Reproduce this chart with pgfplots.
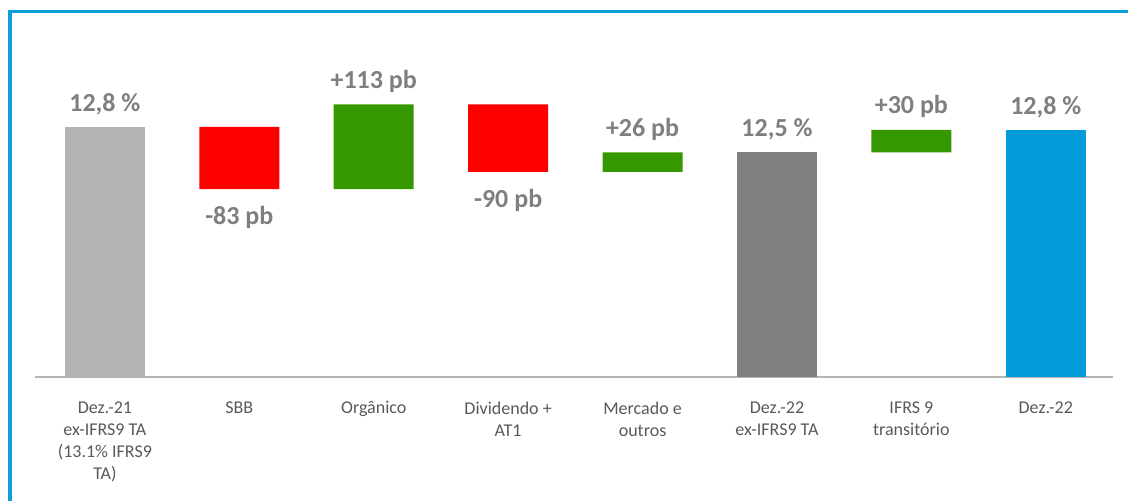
\documentclass[border=0pt]{standalone}
\usepackage{pgfplots}
\pgfplotsset{compat=1.18}
\usepackage{fontspec}
\setmainfont{Carlito}

\definecolor{framebl}{RGB}{10,160,220}
\definecolor{barlg}{RGB}{180,180,180}
\definecolor{bardg}{RGB}{127,127,127}
\definecolor{barbl}{RGB}{3,155,216}
\definecolor{barred}{RGB}{255,0,0}
\definecolor{bargr}{RGB}{53,152,0}
\definecolor{lbl}{RGB}{127,127,127}
\definecolor{cat}{RGB}{89,89,89}

\begin{document}
\begin{tikzpicture}
\path[use as bounding box] (0pt,0pt) rectangle (1128pt,-501pt);
\draw[framebl, line width=3.5pt] (10pt,-501pt) -- (10pt,-11.5pt) -- (1128pt,-11.5pt);
\begin{axis}[
  at={(35pt,-377pt)}, anchor=south west,
  scale only axis, width=1078pt, height=365pt,
  xmin=-0.52, xmax=7.5, ymin=9.4667, ymax=14.333,
  ybar stacked, bar width=80pt,
  axis y line=none, axis x line=bottom,
  axis line style={-, draw=barlg, line width=2pt},
  major tick length=0pt,
  xtick={0,...,7},
  xticklabels={{Dez.-21\\ex-IFRS9 TA\\(13.1\% IFRS9\\TA)},SBB,Orgânico,{Dividendo +\\AT1},{Mercado e\\outros},{Dez.-22\\ex-IFRS9 TA},{IFRS 9\\transitório},Dez.-22},
  xticklabel style={align=center, anchor=north, yshift=-21pt, text=cat,
    font=\fontsize{18}{22}\selectfont},
]
% invisible base
\addplot[draw=none, fill=none] coordinates {(0,0) (1,11.97) (2,11.97) (3,12.20) (4,12.20) (5,0) (6,12.46) (7,0)};
\addplot[draw=none, fill=barlg] coordinates {(0,12.8) (1,0) (2,0) (3,0) (4,0) (5,0) (6,0) (7,0)};
\addplot[draw=none, fill=barred] coordinates {(0,0) (1,0.83) (2,0) (3,0.90) (4,0) (5,0) (6,0) (7,0)};
\addplot[draw=none, fill=bargr] coordinates {(0,0) (1,0) (2,1.13) (3,0) (4,0.26) (5,0) (6,0.30) (7,0)};
\addplot[draw=none, fill=bardg] coordinates {(0,0) (1,0) (2,0) (3,0) (4,0) (5,12.46) (6,0) (7,0)};
\addplot[draw=none, fill=barbl] coordinates {(0,0) (1,0) (2,0) (3,0) (4,0) (5,0) (6,0) (7,12.76)};

\tikzset{vl/.style={text=lbl, font=\fontsize{26}{29}\bfseries\selectfont, inner sep=0pt}}
\node[vl, anchor=south] at (axis cs:0,12.8)  [yshift=12pt] {12,8 \%};
\node[vl, anchor=north] at (axis cs:1,11.97) [yshift=-17pt] {-83 pb};
\node[vl, anchor=south] at (axis cs:2,13.10) [yshift=12pt] {+113 pb};
\node[vl, anchor=north] at (axis cs:3,12.20) [yshift=-17pt] {-90 pb};
\node[vl, anchor=south] at (axis cs:4,12.46) [yshift=12pt] {+26 pb};
\node[vl, anchor=south] at (axis cs:5,12.46) [yshift=12pt] {12,5 \%};
\node[vl, anchor=south] at (axis cs:6,12.76) [yshift=12pt] {+30 pb};
\node[vl, anchor=south] at (axis cs:7,12.76) [yshift=12pt] {12,8 \%};
\end{axis}
\end{tikzpicture}
\end{document}
